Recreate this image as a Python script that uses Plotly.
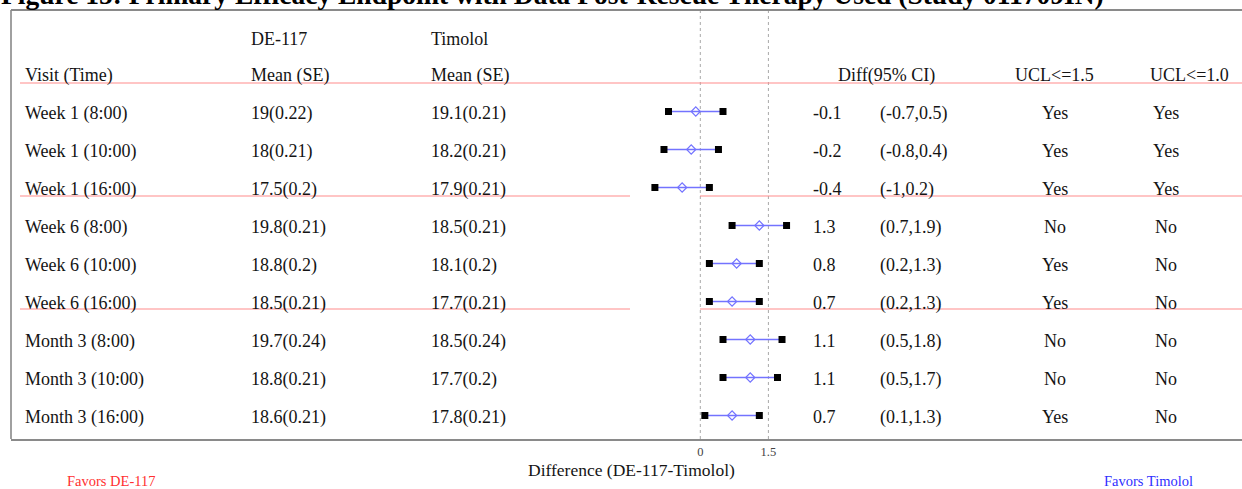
import plotly.graph_objects as go

# ---------------- data ----------------
visits = ["Week 1 (8:00)", "Week 1 (10:00)", "Week 1 (16:00)",
          "Week 6 (8:00)", "Week 6 (10:00)", "Week 6 (16:00)",
          "Month 3 (8:00)", "Month 3 (10:00)", "Month 3 (16:00)"]
de117_mean_se = ["19(0.22)", "18(0.21)", "17.5(0.2)", "19.8(0.21)", "18.8(0.2)",
                 "18.5(0.21)", "19.7(0.24)", "18.8(0.21)", "18.6(0.21)"]
timolol_mean_se = ["19.1(0.21)", "18.2(0.21)", "17.9(0.21)", "18.5(0.21)", "18.1(0.2)",
                   "17.7(0.21)", "18.5(0.24)", "17.7(0.2)", "17.8(0.21)"]
diff = [-0.1, -0.2, -0.4, 1.3, 0.8, 0.7, 1.1, 1.1, 0.7]
lcl = [-0.7, -0.8, -1, 0.7, 0.2, 0.2, 0.5, 0.5, 0.1]
ucl = [0.5, 0.4, 0.2, 1.9, 1.3, 1.3, 1.8, 1.7, 1.3]
ucl_le_15 = ["Yes", "Yes", "Yes", "No", "Yes", "Yes", "No", "No", "Yes"]
ucl_le_10 = ["Yes", "Yes", "Yes", "No", "No", "No", "No", "No", "No"]
ref_lines = [0, 1.5]
tick_vals = [0, 1.5]
tick_text = ["0", "1.5"]

# ---------------- geometry ----------------
W, H = 1242, 489
ML, MR, MT, MB = 11, 0, 10, 50
PW = W - ML - MR
PH = H - MT - MB
X0_PX, X_SCALE = 700.3, 45.4          # pixel of 0 and pixels per unit
Y0_PX, Y_STEP = 111.5, 38.0            # pixel of first row, pixels per row

def px(x):   # pixel -> paper x
    return (x - ML) / PW

def py(p):   # pixel -> paper y
    return (H - MB - p) / PH

def rowy(p):  # pixel -> row coordinate
    return (p - Y0_PX) / Y_STEP

x_range = [(ML - X0_PX) / X_SCALE, (W - MR - X0_PX) / X_SCALE]
y_range = [rowy(MT + PH), rowy(MT)]

FONT = "Liberation Serif"
TXT = "#141414"
FS = 18

rows = list(range(len(visits)))

fig = go.Figure()

# CI lines
lx, ly = [], []
for i in rows:
    lx += [lcl[i], ucl[i], None]
    ly += [i, i, None]
fig.add_trace(go.Scatter(x=lx, y=ly, mode="lines",
                         line=dict(color="#7373ff", width=1.5),
                         hoverinfo="skip", showlegend=False))
# CI end squares
fig.add_trace(go.Scatter(x=lcl + ucl, y=rows + rows, mode="markers",
                         marker=dict(symbol="square", size=7, color="black"),
                         showlegend=False))
# point estimates
fig.add_trace(go.Scatter(x=diff, y=rows, mode="markers",
                         marker=dict(symbol="diamond-open", size=7, color="#7373ff",
                                     line=dict(width=1.2, color="#7373ff")),
                         showlegend=False))

ann = []

def add_text(text, xpix, yrow, size=FS, color=TXT, anchor="left"):
    ann.append(dict(text=text, x=px(xpix), xref="paper", y=yrow, yref="y",
                    xanchor=anchor, yanchor="middle", showarrow=False,
                    font=dict(family=FONT, size=size, color=color)))

# headers
add_text("DE-117", 249, rowy(39))
add_text("Timolol", 429, rowy(39))
add_text("Visit (Time)", 23, rowy(75))
add_text("Mean (SE)", 249, rowy(75))
add_text("Mean (SE)", 429, rowy(75))
add_text("Diff(95% CI)", 836, rowy(75))
add_text("UCL&lt;=1.5", 1013, rowy(75))
add_text("UCL&lt;=1.0", 1148, rowy(75))

for i in rows:
    yy = i + 0.05
    add_text(visits[i], 23, yy)
    add_text(de117_mean_se[i], 249, yy)
    add_text(timolol_mean_se[i], 429, yy)
    add_text(f"{diff[i]:g}", 811, yy)
    add_text(f"({lcl[i]:g},{ucl[i]:g})", 878, yy)
    add_text(ucl_le_15[i], 1055, yy, anchor="center")
    add_text(ucl_le_10[i], 1166, yy, anchor="center")

# title (cropped at top)
ann.append(dict(text="<b>Figure 15: Primary Efficacy Endpoint with Data Post-Rescue Therapy Used (Study 011709IN)</b>",
                x=px(-1), xref="paper", y=py(-5), yref="paper",
                xanchor="left", yanchor="middle", showarrow=False,
                font=dict(family=FONT, size=27.5, color="black")))

# bottom labels
ann.append(dict(text="Difference (DE-117-Timolol)", x=px(631), xref="paper",
                y=py(470), yref="paper", xanchor="center", yanchor="middle",
                showarrow=False, font=dict(family=FONT, size=17.5, color=TXT)))
ann.append(dict(text="Favors DE-117", x=px(65), xref="paper",
                y=py(481), yref="paper", xanchor="left", yanchor="middle",
                showarrow=False, font=dict(family=FONT, size=14.5, color="#ff3030")))
ann.append(dict(text="Favors Timolol", x=px(1102), xref="paper",
                y=py(481), yref="paper", xanchor="left", yanchor="middle",
                showarrow=False, font=dict(family=FONT, size=14.5, color="#3030ff")))

shapes = []
# dotted reference lines
for v in ref_lines:
    shapes.append(dict(type="line", xref="x", yref="paper", x0=v, x1=v, y0=0, y1=1,
                       line=dict(color="#a8a8a8", width=1, dash="dot"), layer="below"))
# red separator lines
RED = "#ff8c8c"
shapes.append(dict(type="line", xref="paper", yref="y", x0=px(20), x1=1,
                   y0=rowy(83), y1=rowy(83), line=dict(color=RED, width=1.2)))
for yp in [196, 309]:
    shapes.append(dict(type="line", xref="paper", yref="y", x0=px(20), x1=px(630),
                       y0=rowy(yp), y1=rowy(yp), line=dict(color=RED, width=1.2)))
    shapes.append(dict(type="line", xref="paper", yref="y", x0=px(700), x1=1,
                       y0=rowy(yp), y1=rowy(yp), line=dict(color=RED, width=1.2)))
# frame (left, top)
shapes.append(dict(type="line", xref="paper", yref="paper", x0=0, x1=0, y0=0, y1=1,
                   line=dict(color="#a0a0a0", width=2)))
shapes.append(dict(type="line", xref="paper", yref="paper", x0=0, x1=1, y0=1, y1=1,
                   line=dict(color="#8a8a8a", width=2)))

fig.update_layout(
    width=W, height=H,
    margin=dict(l=ML, r=MR, t=MT, b=MB),
    paper_bgcolor="white", plot_bgcolor="white",
    showlegend=False,
    xaxis=dict(range=x_range, tickvals=tick_vals, ticktext=tick_text,
               showgrid=False, zeroline=False, showline=True, linecolor="#8a8a8a",
               linewidth=1.5, ticks="", tickfont=dict(family=FONT, size=12.5, color="#444"),
               fixedrange=True),
    yaxis=dict(range=y_range, visible=False, fixedrange=True),
    annotations=ann,
    shapes=shapes,
)

fig.write_html("out.html")
